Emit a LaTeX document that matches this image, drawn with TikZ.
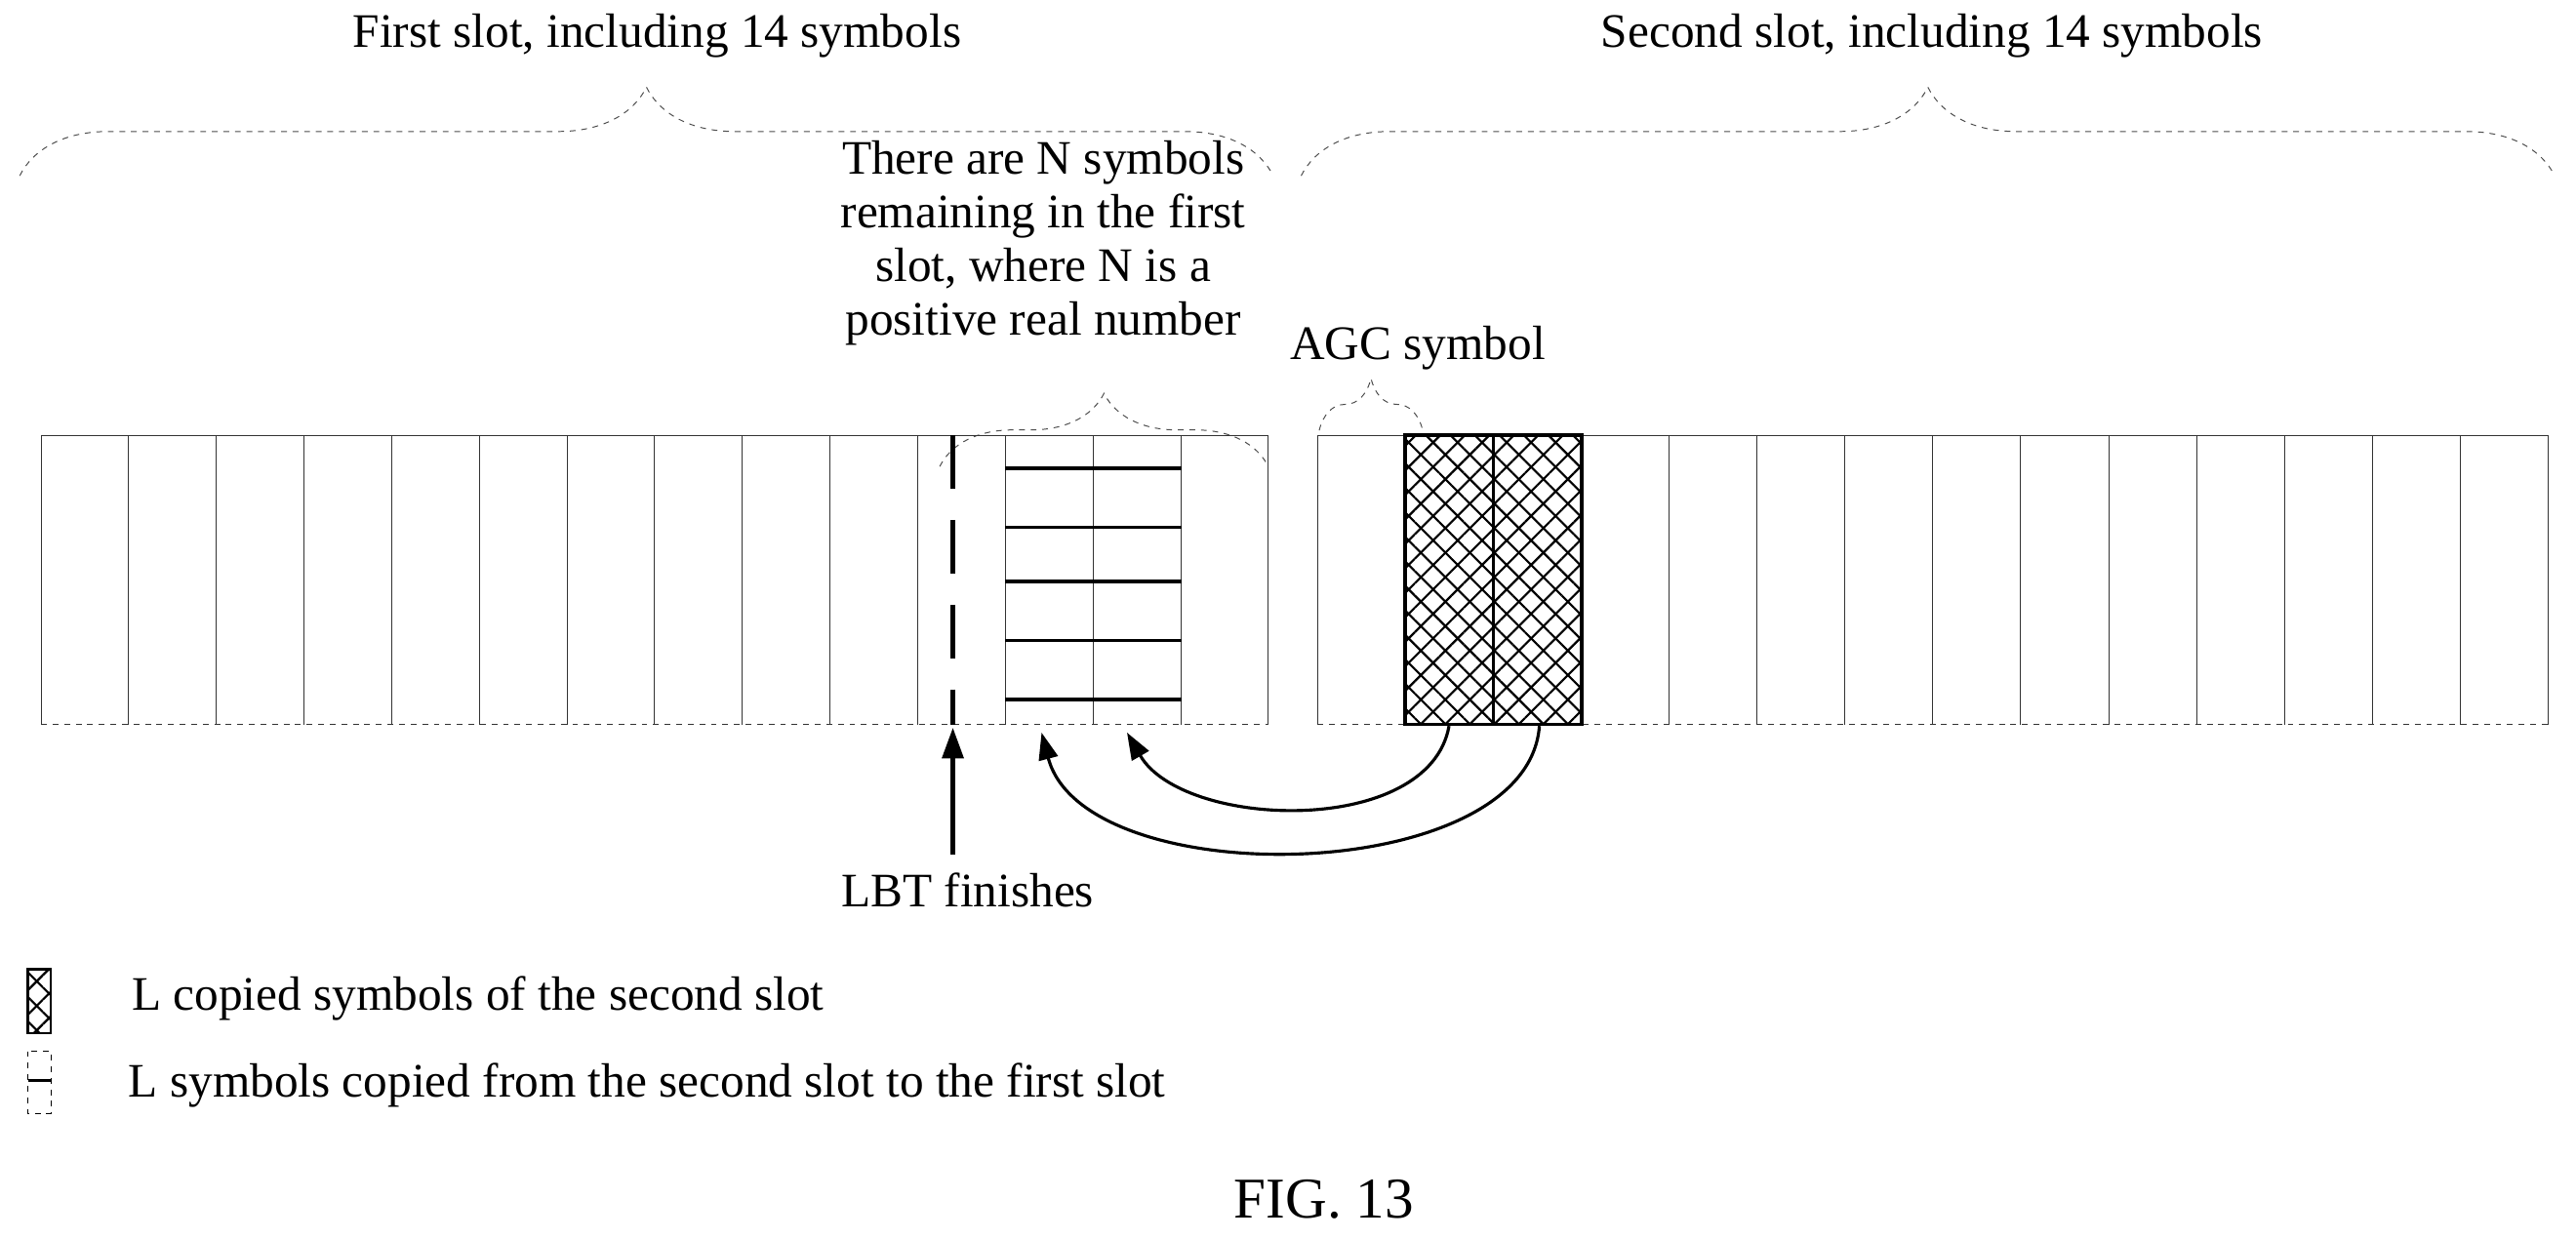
\documentclass[tikz,border=0pt]{standalone}
\usepackage{fontspec}
\setmainfont{Liberation Serif}
\usetikzlibrary{decorations.pathreplacing,patterns.meta,arrows.meta}
\begin{document}
\begin{tikzpicture}[x=0.03cm,y=-0.03cm,
  txt/.style={font=\fontsize{25}{30}\selectfont, inner sep=0pt},
  thin/.style={line width=0.5pt, black!80},
  br/.style={decorate, decoration={brace, amplitude=#1}, line width=0.5pt, dashed, black!70},
  thick/.style={line width=2.2pt},
  hatch/.style={pattern={Lines[angle=45,distance=9pt,line width=1.1pt]}},
  hatchb/.style={pattern={Lines[angle=-45,distance=9pt,line width=1.1pt]}},
  arr/.style={line width=1.6pt, -{Triangle[length=14pt,width=10pt]}}]
\useasboundingbox (0,0) rectangle (1568,754);
% top labels and braces
\node[txt] (l1) at (400,22) {First slot, including 14 symbols};
\node[txt] (l2) at (1176,22) {Second slot, including 14 symbols};
\draw[br=46pt] (12,107) -- (775,107);
\draw[br=46pt] (792,107) -- (1555,107);
\node[txt, align=center, font=\fontsize{25}{28}\selectfont] (nt) at (635,148) {There are N symbols\\remaining in the first\\slot, where N is a\\positive real number};
\draw[br=38pt] (572,284) -- (772,284);
\node[txt] (agc) at (863,212) {AGC symbol};
\draw[br=27pt] (803,262) -- (866,262);
% first slot
\draw[thin] (25,441) -- (25,265) -- (772,265) -- (772,441);
\draw[thin, dashed] (25,441) -- (772,441);
\foreach \k in {1,...,13} \draw[thin] ({25+53.36*\k},265) -- ({25+53.36*\k},441);
\foreach \y in {285,321,354,390,426} \draw[line width=1.8pt] (612,\y) -- (719,\y);
\draw[thick, dash pattern=on 28pt off 16pt] (580,265) -- (580,441);
% second slot
\draw[thin] (802,441) -- (802,265) -- (1551,265) -- (1551,441);
\draw[thin, dashed] (802,441) -- (1551,441);
\foreach \k in {1,...,13} \draw[thin] ({802+53.5*\k},265) -- ({802+53.5*\k},441);
\foreach \a/\b in {855.5/909,909/962.5}{
  \fill[hatch] (\a,265) rectangle (\b,441);
  \fill[hatchb] (\a,265) rectangle (\b,441);
  \draw[line width=2pt] (\a,265) rectangle (\b,441);}
\coordinate (c1) at (882,442);
\coordinate (c2) at (937,442);
\coordinate (t1) at (686,446);
\coordinate (t2) at (634,446);
\draw[arr] (c1) .. controls (870,510) and (720,505) .. (t1);
\draw[arr] (c2) .. controls (930,540) and (660,545) .. (t2);
% LBT
\node[txt] (lbt) at (589,542) {LBT finishes};
\coordinate (lb) at (580,520);
\draw[line width=2.2pt, -{Triangle[length=16pt,width=11pt]}] (lb) -- (580,443);
% legend
\fill[hatch] (17,590) rectangle (31,629);
\fill[hatchb] (17,590) rectangle (31,629);
\draw[line width=1.2pt] (17,590) rectangle (31,629);
\node[txt, anchor=west] (g1) at (80,608) {L copied symbols of the second slot};
\draw[line width=0.7pt, dashed] (17,640) rectangle (31,678);
\draw[line width=1.5pt] (17,658) -- (31,658);
\node[txt, anchor=west] (g2) at (78,661) {L symbols copied from the second slot to the first slot};
\node[txt, font=\fontsize{30}{34}\selectfont] (fig) at (806,730) {FIG. 13};
\end{tikzpicture}
\end{document}
